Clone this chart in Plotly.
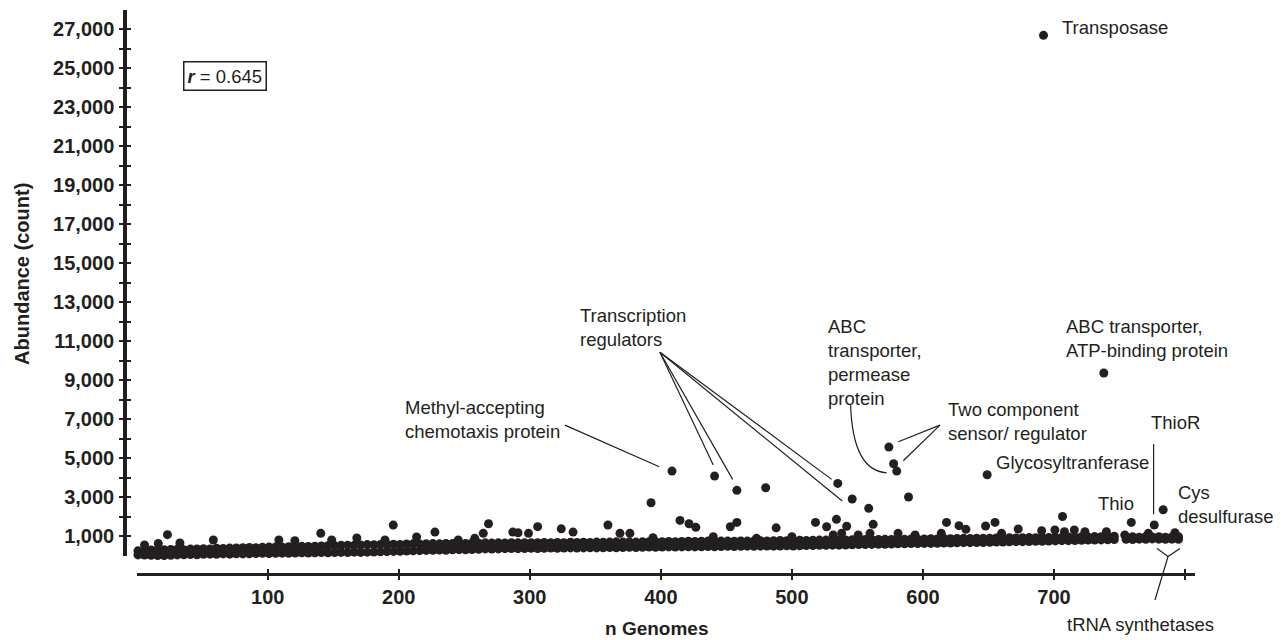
import plotly.graph_objects as go

INK = "#231f20"
FONT = "Liberation Sans, Arial, sans-serif"

# ---------------- data ----------------
# dense band of genes: genome counts and lower / upper abundance of the band
band_n = [1, 6, 11, 16, 21, 26, 31, 36, 41, 46, 51, 56, 61, 66, 71,
          76, 81, 86, 91, 96, 101, 106, 111, 116, 121, 126, 131, 136, 141, 146,
          151, 156, 161, 166, 171, 176, 181, 186, 191, 196, 201, 206, 211, 216, 221,
          226, 231, 236, 241, 246, 251, 256, 261, 266, 271, 276, 281, 286, 291, 296,
          301, 306, 311, 316, 321, 326, 331, 336, 341, 346, 351, 356, 361, 366, 371,
          376, 381, 386, 391, 396, 401, 406, 411, 416, 421, 426, 431, 436, 441, 446,
          451, 456, 461, 466, 471, 476, 481, 486, 491, 496, 501, 506, 511, 516, 521,
          526, 531, 536, 541, 546, 551, 556, 561, 566, 571, 576, 581, 586, 591, 596,
          601, 606, 611, 616, 621, 626, 631, 636, 641, 646, 651, 656, 661, 666, 671,
          676, 681, 686, 691, 696, 701, 706, 711, 716, 721, 726, 731, 736, 741, 746,
          755, 760, 765, 770, 775, 780, 785, 790, 795]
band_lower = [30, 20, 10, 0, 0, 10, 30, 40, 50, 40, 60, 70, 60, 80, 70,
              90, 80, 90, 100, 110, 100, 110, 120, 110, 130, 140, 130, 140, 150, 140,
              150, 160, 150, 170, 160, 170, 180, 190, 200, 210, 220, 230, 240, 250, 260,
              270, 280, 270, 290, 300, 290, 310, 320, 340, 330, 340, 350, 360, 350, 360,
              370, 360, 370, 380, 370, 380, 390, 380, 390, 400, 390, 400, 410, 400, 410,
              420, 410, 420, 430, 420, 430, 440, 430, 440, 450, 440, 450, 460, 450, 460,
              470, 460, 470, 480, 470, 480, 490, 480, 490, 500, 490, 500, 510, 510, 520,
              520, 530, 530, 540, 550, 560, 560, 570, 580, 580, 590, 600, 600, 610, 610,
              620, 620, 630, 640, 640, 650, 660, 660, 670, 670, 680, 690, 690, 700, 710,
              710, 720, 730, 730, 740, 750, 760, 760, 770, 780, 790, 790, 800, 810, 820,
              830, 820, 840, 830, 850, 840, 830, 840, 830]
band_upper = [240, 260, 280, 300, 290, 310, 320, 300, 330, 340, 350, 340, 370, 360, 380,
              390, 400, 410, 400, 420, 430, 440, 430, 450, 460, 470, 460, 480, 490, 500,
              510, 520, 530, 520, 540, 560, 550, 560, 570, 580, 570, 590, 600, 590, 600,
              610, 600, 620, 610, 630, 620, 640, 630, 650, 640, 650, 640, 660, 650, 660,
              650, 660, 670, 660, 670, 660, 680, 670, 680, 670, 690, 680, 690, 700, 690,
              700, 690, 700, 710, 700, 710, 720, 710, 720, 730, 720, 730, 740, 730, 740,
              740, 730, 750, 740, 750, 760, 750, 760, 770, 760, 770, 780, 770, 780, 790,
              790, 800, 790, 800, 810, 800, 820, 810, 820, 830, 820, 840, 830, 850, 840,
              850, 860, 850, 870, 860, 870, 880, 870, 890, 880, 890, 900, 890, 910, 900,
              910, 920, 910, 930, 920, 940, 930, 950, 940, 960, 950, 970, 960, 980, 990,
              950, 960, 940, 970, 950, 960, 940, 950, 960]

# genes standing out above the band
spread_n = [6, 16.5, 23.5, 33, 58.5, 108.5, 120.7, 140.5, 148.8, 168, 189.5, 195.8,
            213.6, 227.6, 245.4, 258, 264.5, 268.5, 287, 291, 299, 306, 324, 333,
            359.6, 368.8, 376.4, 392.5, 394, 408.5, 414.6, 421.5, 426.7, 440, 441,
            453, 458, 458, 473, 480, 488, 500, 518, 526.5, 531.5, 534, 535, 538,
            541.8, 546, 550.6, 558.6, 559.6, 562, 574, 577.6, 580, 581, 589, 594,
            614, 618, 627.5, 632.8, 647.8, 649, 655, 660, 672.7, 690.6, 692, 700.7,
            706.5, 708, 715.5, 723.6, 738, 740, 754, 759, 772, 776.5, 783.3, 792.3]
spread_abund = [540, 620, 1070, 640, 795, 795, 760, 1138, 795, 900, 795, 1560,
                950, 1200, 795, 880, 1138, 1630, 1200, 1170, 1138, 1480, 1370, 1200,
                1564, 1138, 1138, 2710, 913, 4333, 1800, 1630, 1446, 964, 4077,
                1477, 1700, 3343, 880, 3480, 1420, 964, 1700, 1477, 1050, 1856, 3700, 1138,
                1500, 2900, 1050, 2420, 1138, 1600, 5564, 4710, 4333, 1138, 3000, 1050,
                1138, 1700, 1530, 1343, 1513, 4145, 1700, 1138, 1360, 1272, 26700, 1308,
                2000, 1220, 1308, 1220, 9370, 1220, 1050, 1700, 1138, 1564, 2350, 1170]

x_ticks = [100, 200, 300, 400, 500, 600, 700, 800]
x_tick_text = ["100", "200", "300", "400", "500", "600", "700", ""]
y_ticks = [1000, 2000, 3000, 4000, 5000, 6000, 7000, 8000, 9000, 10000, 11000, 12000,
           13000, 14000, 15000, 16000, 17000, 18000, 19000, 20000, 21000, 22000, 23000,
           24000, 25000, 26000, 27000]
y_tick_text = [f"{v:,}" if (v // 1000) % 2 == 1 else "" for v in y_ticks]

X_RANGE = [0, 807.6]
Y_RANGE = [0, 28000]
X_DOM = [0.0109, 1]
Y_DOM = [0.0328, 1]

marker = dict(size=9, color=INK, line=dict(width=0))

fig = go.Figure()
for ys in (band_lower, band_upper):
    fig.add_trace(go.Scatter(x=band_n, y=ys, mode="markers", marker=marker,
                             cliponaxis=False, hoverinfo="x+y"))
fig.add_trace(go.Scatter(x=spread_n, y=spread_abund, mode="markers", marker=marker,
                         cliponaxis=False, hoverinfo="x+y"))
# empty trace to carry the overlay axes (inner half of the crossing ticks)
fig.add_trace(go.Scatter(x=[None], y=[None], xaxis="x2", yaxis="y2", mode="markers",
                         showlegend=False, hoverinfo="skip"))

tickfont = dict(family=FONT, size=20, color=INK, weight="bold")

# the page body adds an 8 px margin, so the figure is 8 px smaller than the window
fig.update_layout(
    width=1273, height=632,
    margin=dict(l=117, r=86, t=2, b=66),
    paper_bgcolor="white", plot_bgcolor="white",
    showlegend=False,
    xaxis=dict(domain=X_DOM, range=X_RANGE, anchor="free", position=0,
               showline=True, linewidth=3, linecolor=INK, showgrid=False, zeroline=False,
               ticks="outside", ticklen=4, tickwidth=1.5, tickcolor=INK,
               tickvals=x_ticks, ticktext=x_tick_text, tickfont=tickfont,
               ticklabelstandoff=0),
    yaxis=dict(domain=Y_DOM, range=Y_RANGE, anchor="free", position=0,
               showline=True, linewidth=3.5, linecolor=INK, showgrid=False, zeroline=False,
               ticks="outside", ticklen=4, tickwidth=1.5, tickcolor=INK,
               tickvals=y_ticks, ticktext=y_tick_text, tickfont=tickfont,
               ticklabelstandoff=1),
    xaxis2=dict(domain=X_DOM, range=X_RANGE, anchor="free", position=0, overlaying="x",
                showline=False, showgrid=False, zeroline=False,
                ticks="inside", ticklen=5, tickwidth=1.5, tickcolor=INK,
                tickvals=x_ticks, showticklabels=False),
    yaxis2=dict(domain=Y_DOM, range=Y_RANGE, anchor="free", position=0, overlaying="y",
                showline=False, showgrid=False, zeroline=False,
                ticks="inside", ticklen=5, tickwidth=1.5, tickcolor=INK,
                tickvals=y_ticks, showticklabels=False),
)

afont = dict(family=FONT, size=18.5, color=INK)
labels = [
    ("Transposase", 704.6, 27077),
    ("ABC transporter,<br>ATP-binding protein", 707.6, 11118),
    ("Transcription<br>regulators", 336.9, 11700),
    ("Methyl-accepting<br>chemotaxis protein", 203.0, 6990),
    ("ABC<br>transporter,<br>permease<br>protein", 525.8, 9913),
    ("Two component<br>sensor/ regulator", 617.3, 6877),
    ("Glycosyltranferase", 654.2, 4759),
    ("Thio", 731.8, 2677),
    ("ThioR", 772.5, 6810),
    ("Cys<br>desulfurase", 792.8, 2631),
]
for text, x, y in labels:
    fig.add_annotation(x=x, y=y, xref="x", yref="y", text=text, showarrow=False,
                       xanchor="left", yanchor="middle", align="left", font=afont)

fig.add_annotation(x=0.8785, y=-0.0904, xref="paper", yref="paper", text="tRNA synthetases",
                   showarrow=False, xanchor="left", yanchor="middle", font=afont)
fig.add_annotation(x=67.5, y=24590, xref="x", yref="y", text="<b><i>r</i></b> = 0.645",
                   showarrow=False, xanchor="center", yanchor="middle", font=afont,
                   bordercolor=INK, borderwidth=1.5, borderpad=3, bgcolor="white")
fig.add_annotation(x=-0.0963, y=0.532, xref="paper", yref="paper", text="<b>Abundance (count)</b>",
                   textangle=-90, showarrow=False, xanchor="center", yanchor="middle",
                   font=dict(family=FONT, size=20, color=INK))
fig.add_annotation(x=0.497, y=-0.0965, xref="paper", yref="paper", text="<b>n Genomes</b>",
                   showarrow=False, xanchor="center", yanchor="middle",
                   font=dict(family=FONT, size=19, color=INK))

# leader lines (data coordinates)
leaders = [
    (326.8, 6692, 398.8, 4554),
    (399.3, 10436, 440.0, 4641),
    (399.3, 10436, 454.8, 3908),
    (399.3, 10436, 530.3, 3908),
    (399.3, 10436, 538.4, 2795),
    (613.0, 6692, 581.2, 5836),
    (613.0, 6692, 585.0, 4862),
    (776.0, 5718, 776.0, 2113),
]
for x0, y0, x1, y1 in leaders:
    fig.add_shape(type="line", xref="x", yref="y", x0=x0, y0=y0, x1=x1, y1=y1,
                  line=dict(color=INK, width=1.2))
fig.add_shape(type="path", xref="x", yref="y",
              path="M 544.8,7718 Q 546.5,4350 572.3,4246",
              line=dict(color=INK, width=1.2))
# tRNA synthetase bracket (below the axis, paper coordinates)
for x0, y0, x1, y1 in [(0.9645, 0.0452, 0.9748, 0.0310), (0.9860, 0.0452, 0.9748, 0.0310),
                       (0.9748, 0.0310, 0.9626, -0.0461)]:
    fig.add_shape(type="line", xref="paper", yref="paper", x0=x0, y0=y0, x1=x1, y1=y1,
                  line=dict(color=INK, width=1.2))

fig.write_html("out.html")
